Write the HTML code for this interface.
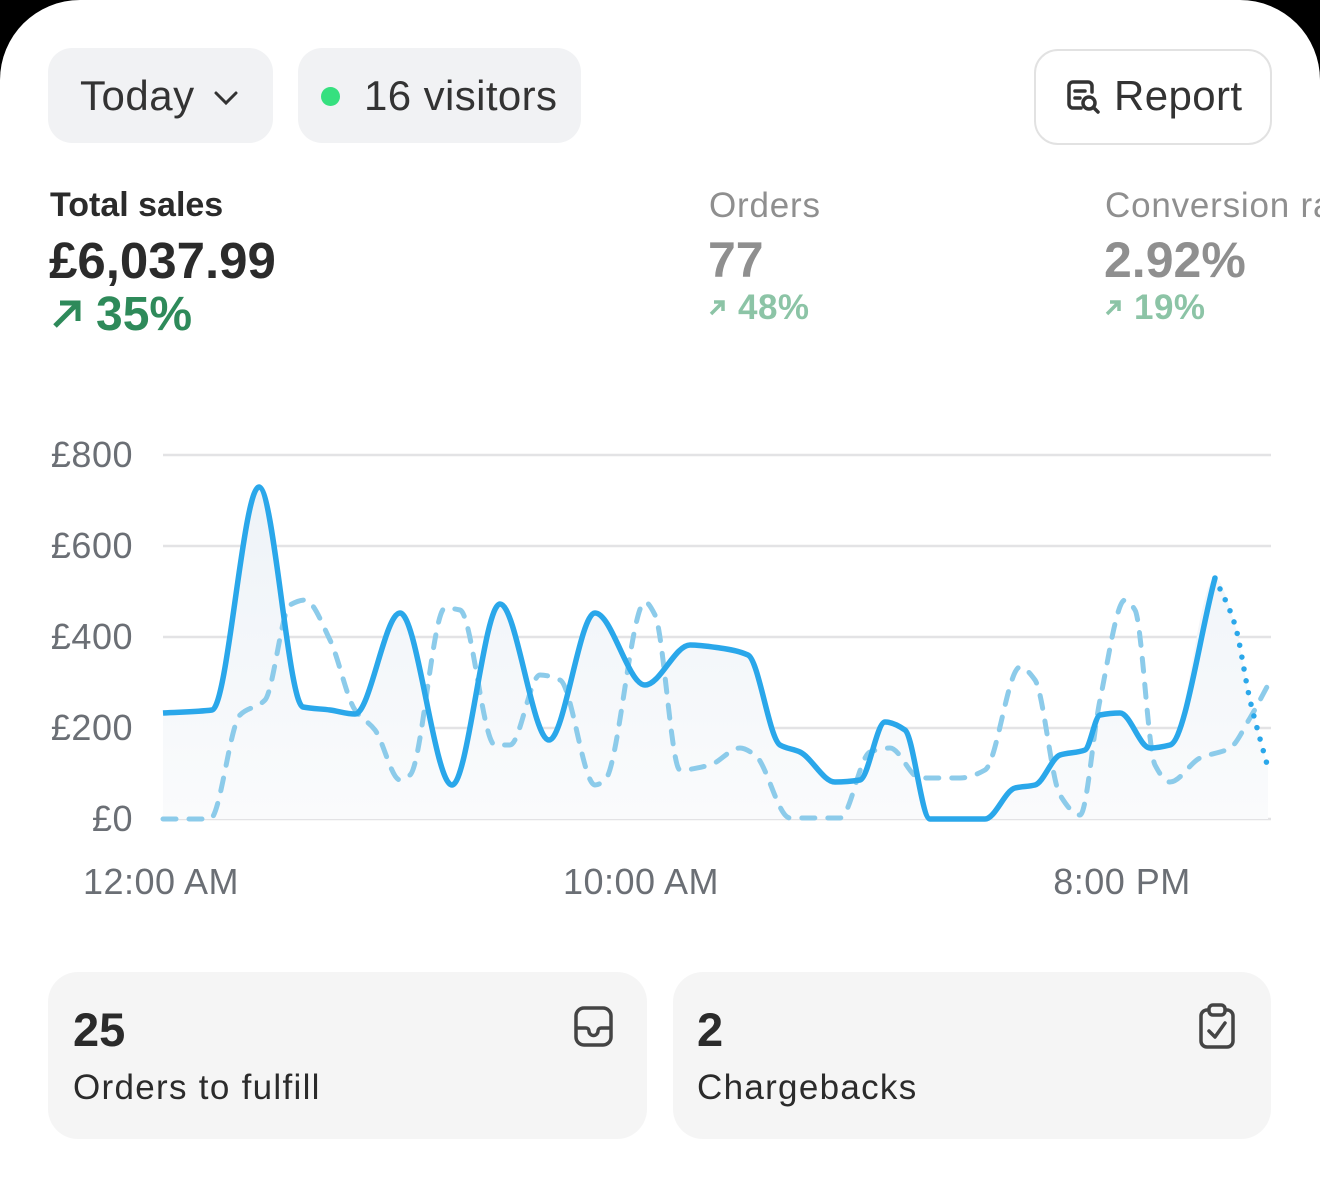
<!DOCTYPE html>
<html><head><meta charset="utf-8"><style>
html,body{margin:0;padding:0;background:#000;}
#p{position:relative;width:1320px;height:1185px;background:#fff;border-radius:80px 80px 0 0;overflow:hidden;font-family:"Liberation Sans",sans-serif;color:#2b2b2b;}
.a{position:absolute;white-space:nowrap;}
.pill{position:absolute;background:#f1f2f4;border-radius:24px;}
</style></head><body>
<div id="p">
<div class="pill" style="left:48px;top:48px;width:225px;height:95px"></div>
<div class="a" style="left:80px;top:72px;font-size:42px;color:#333;letter-spacing:0.5px">Today</div>
<svg class="a" style="left:212px;top:88px" width="30" height="20"><path d="M4 5 L14 15 L24 5" fill="none" stroke="#333" stroke-width="3" stroke-linecap="round"/></svg>
<div class="pill" style="left:298px;top:48px;width:283px;height:95px"></div>
<div class="a" style="left:321px;top:87px;width:19px;height:19px;border-radius:50%;background:#36e07f"></div>
<div class="a" style="left:364px;top:72px;font-size:42px;color:#333;letter-spacing:0.4px">16 visitors</div>
<div class="a" style="left:1034px;top:49px;width:234px;height:92px;border:2px solid #e2e2e2;border-radius:24px;"></div>
<svg class="a" style="left:1064px;top:78px" width="40" height="40" viewBox="0 0 40 40"><path d="M17 30 H9 a4 4 0 0 1 -4 -4 V8 a4 4 0 0 1 4 -4 H24 a4 4 0 0 1 4 4 V14" fill="none" stroke="#333" stroke-width="3.5" stroke-linecap="round"/><path d="M11 13 H21 M11 20 H16" stroke="#333" stroke-width="3.5" stroke-linecap="round"/><circle cx="25" cy="25" r="6" fill="none" stroke="#333" stroke-width="3.5"/><path d="M29.5 29.5 L34 34" stroke="#333" stroke-width="3.5" stroke-linecap="round"/></svg>
<div class="a" style="left:1114px;top:72px;font-size:42px;color:#333;letter-spacing:0.4px">Report</div>

<div class="a" style="left:50px;top:186px;font-size:34px;font-weight:bold;color:#2b2b2b">Total sales</div>
<div class="a" style="left:49px;top:231px;font-size:51px;font-weight:bold;color:#2b2b2b">£6,037.99</div>
<svg class="a" style="left:50px;top:298px" width="36" height="32"><path d="M5 28 L28 5 M10 5 H28 V23" fill="none" stroke="#2e8a5a" stroke-width="5"/></svg>
<div class="a" style="left:96px;top:287px;font-size:48px;font-weight:bold;color:#2e8a5a">35%</div>

<div class="a" style="left:709px;top:186px;font-size:35px;color:#8f8f8f;letter-spacing:0.8px">Orders</div>
<div class="a" style="left:708px;top:231px;font-size:50px;font-weight:bold;color:#8f8f8f">77</div>
<svg class="a" style="left:708px;top:298px" width="20" height="20"><path d="M3 16 L15 4 M6 4 H15 V13" fill="none" stroke="#8cc4a6" stroke-width="3.5"/></svg>
<div class="a" style="left:738px;top:288px;font-size:35px;font-weight:bold;color:#8cc4a6;letter-spacing:0.5px">48%</div>

<div class="a" style="left:1105px;top:186px;font-size:35px;color:#8f8f8f;letter-spacing:0.8px">Conversion rate</div>
<div class="a" style="left:1104px;top:231px;font-size:50px;font-weight:bold;color:#8f8f8f">2.92%</div>
<svg class="a" style="left:1104px;top:298px" width="20" height="20"><path d="M3 16 L15 4 M6 4 H15 V13" fill="none" stroke="#8cc4a6" stroke-width="3.5"/></svg>
<div class="a" style="left:1134px;top:288px;font-size:35px;font-weight:bold;color:#8cc4a6;letter-spacing:0.5px">19%</div>

<svg class="a" style="left:0;top:0" width="1320" height="1185" id="ch">
<defs><linearGradient id="g" x1="0" y1="0" x2="0" y2="1"><stop offset="0" stop-color="#eef3f8"/><stop offset="1" stop-color="#fafbfc"/></linearGradient></defs>
<g stroke="#e3e3e5" stroke-width="2.5">
<line x1="163" y1="455" x2="1271" y2="455"/><line x1="163" y1="546" x2="1271" y2="546"/><line x1="163" y1="637" x2="1271" y2="637"/><line x1="163" y1="728" x2="1271" y2="728"/><line x1="163" y1="819" x2="1271" y2="819"/></g>
<g font-size="36" fill="#6b6f75" text-anchor="end" font-family="Liberation Sans, sans-serif" letter-spacing="0.5">
<text x="133" y="467">£800</text><text x="133" y="558">£600</text><text x="133" y="649">£400</text><text x="133" y="740">£200</text><text x="133" y="831">£0</text></g>
<g font-size="36" fill="#6b6f75" text-anchor="middle" font-family="Liberation Sans, sans-serif" letter-spacing="0.5">
<text x="161" y="894">12:00 AM</text><text x="641" y="894">10:00 AM</text><text x="1122" y="894">8:00 PM</text></g>
<path id="fill" fill="url(#g)"/>
<path id="dash" fill="none" stroke="#8ccbea" stroke-width="5" stroke-dasharray="13 13" stroke-linecap="round"/>
<path id="sol" fill="none" stroke="#2aa7ea" stroke-width="5.5" stroke-linejoin="round"/>
<path id="dot" fill="none" stroke="#2aa7ea" stroke-width="5.5" stroke-dasharray="0 12" stroke-linecap="round"/>
</svg>

<div class="a" style="left:48px;top:972px;width:599px;height:167px;background:#f5f5f5;border-radius:30px"></div>
<div class="a" style="left:673px;top:972px;width:598px;height:167px;background:#f5f5f5;border-radius:30px"></div>
<div class="a" style="left:73px;top:1002px;font-size:47px;font-weight:bold;color:#2b2b2b">25</div>
<div class="a" style="left:73px;top:1068px;font-size:35px;color:#2b2b2b;letter-spacing:1.3px">Orders to fulfill</div>
<div class="a" style="left:697px;top:1002px;font-size:47px;font-weight:bold;color:#2b2b2b">2</div>
<div class="a" style="left:697px;top:1068px;font-size:35px;color:#2b2b2b;letter-spacing:1.3px">Chargebacks</div>
<svg class="a" style="left:572px;top:1004px" width="44" height="44" viewBox="0 0 44 44"><rect x="4" y="4" width="35" height="37" rx="8" fill="none" stroke="#444" stroke-width="3.5"/><path d="M5 24 H14 a3 3 0 0 1 3 3 a4 4 0 0 0 9 0 a3 3 0 0 1 3 -3 H38" fill="none" stroke="#444" stroke-width="3.5"/></svg>
<svg class="a" style="left:1196px;top:1002px" width="44" height="48" viewBox="0 0 44 48"><rect x="5" y="8" width="32" height="37" rx="6" fill="none" stroke="#444" stroke-width="3.5"/><rect x="13" y="3" width="16" height="10" rx="4" fill="#f5f5f5" stroke="#444" stroke-width="3.5"/><path d="M13 29 L19 35 L29 21" fill="none" stroke="#444" stroke-width="3.5" stroke-linecap="round" stroke-linejoin="round"/></svg>
</div>
<script>
function mono(p){const n=p.length;const dx=[],s=[];for(let i=0;i<n-1;i++){dx[i]=p[i+1][0]-p[i][0];s[i]=(p[i+1][1]-p[i][1])/dx[i];}
const m=[s[0]];for(let i=1;i<n-1;i++){if(s[i-1]*s[i]<=0)m[i]=0;else{const w1=2*dx[i]+dx[i-1],w2=dx[i]+2*dx[i-1];m[i]=(w1+w2)/(w1/s[i-1]+w2/s[i]);}}m[n-1]=s[n-2];
let d="M"+p[0][0]+" "+p[0][1];for(let i=0;i<n-1;i++){const h=dx[i]/3;d+=" C"+(p[i][0]+h).toFixed(1)+" "+(p[i][1]+m[i]*h).toFixed(1)+" "+(p[i+1][0]-h).toFixed(1)+" "+(p[i+1][1]-m[i+1]*h).toFixed(1)+" "+p[i+1][0]+" "+p[i+1][1];}return d;}
const S=[[163,713],[212,710],[259,487],[303,707],[330,710],[355,714],[400,613],[452,785],[500,604],[549,740],[595,613],[645,685],[690,645],[720,648],[748,655],[780,745],[800,752],[835,782],[860,780],[885,722],[905,730],[930,819],[985,819],[1015,788],[1035,785],[1060,755],[1085,750],[1100,715],[1120,713],[1150,748],[1170,745],[1215,578]];
const D=[[1215,578],[1235,625],[1250,700],[1268,768]];
const L=[[163,819],[210,819],[240,715],[265,700],[290,605],[305,600],[330,640],[355,710],[375,730],[400,780],[410,775],[445,608],[460,610],[495,745],[510,745],[540,675],[560,680],[595,785],[605,780],[645,602],[655,615],[680,770],[710,765],[740,748],[755,755],[790,818],[840,818],[870,752],[890,748],[920,778],[960,778],[985,770],[1020,667],[1035,680],[1060,795],[1080,815],[1100,700],[1125,600],[1135,610],[1155,765],[1170,782],[1200,758],[1230,748],[1250,718],[1268,685]];
document.getElementById('sol').setAttribute('d',mono(S));
document.getElementById('dot').setAttribute('d',mono(D));
document.getElementById('dash').setAttribute('d',mono(L));
document.getElementById('fill').setAttribute('d',mono(S.concat(D.slice(1)))+" L1268 819 L163 819 Z");
</script>
</body></html>
